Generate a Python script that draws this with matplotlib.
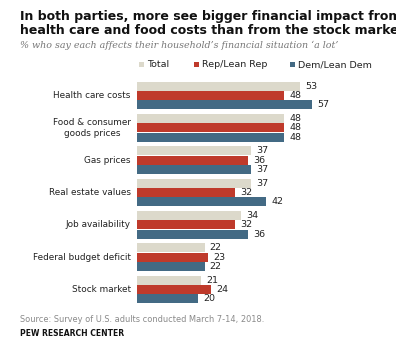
import matplotlib
matplotlib.use("Agg")
import matplotlib.pyplot as plt
from matplotlib.patches import Rectangle
import numpy as np

categories = ["Health care costs", "Food & consumer\ngoods prices", "Gas prices",
              "Real estate values", "Job availability", "Federal budget deficit", "Stock market"]
series_names = ["Total", "Rep/Lean Rep", "Dem/Lean Dem"]
total = [53, 48, 37, 37, 34, 22, 21]
rep = [48, 48, 36, 32, 32, 23, 24]
dem = [57, 48, 37, 42, 36, 22, 20]
colors = ["#dcd9cb", "#bf3a2b", "#436a84"]

W, H = 396, 345
fig = plt.figure(figsize=(W / 100, H / 100), dpi=100)

ax_left_px, ax_w_px = 137, 240
px_per_unit = 3.07
top_px, bot_px = 79.3, 305.7
ax = fig.add_axes([ax_left_px / W, 1 - bot_px / H, ax_w_px / W, (bot_px - top_px) / H])
ax.set_xlim(0, ax_w_px / px_per_unit)
ax.set_ylim(len(categories) - 0.5, -0.5)
ax.axis("off")

y = np.arange(len(categories))
pitch = 0.288
bh = 0.272
for k, vals in enumerate([total, rep, dem]):
    yy = y + (k - 1) * pitch
    ax.barh(yy, vals, height=bh, color=colors[k], edgecolor="none")
    for yi, v in zip(yy, vals):
        ax.text(v + 1.7, yi, str(v), va="center", ha="left", fontsize=6.8, color="#222222")

for yi, c in zip(y, categories):
    ax.text(-2.0, yi, c, va="center", ha="right", fontsize=6.4, color="#222222",
            multialignment="center", linespacing=1.25)

# Title (the reference's title runs past the right edge)
fig.text(20 / W, 1 - 20 / H, "In both parties, more see bigger financial impact from",
         fontsize=9.0, fontweight="bold", color="#111111", ha="left", va="baseline")
fig.text(20 / W, 1 - 34 / H, "health care and food costs than from the stock market",
         fontsize=9.0, fontweight="bold", color="#111111", ha="left", va="baseline")
fig.text(20 / W, 1 - 48 / H, "% who say each affects their household\u2019s financial situation \u2018a lot\u2019",
         fontsize=6.8, family="DejaVu Serif", style="italic", color="#777777",
         ha="left", va="baseline")

# Legend
leg_x = [139, 194, 290]
for name, c, lx in zip(series_names, colors, leg_x):
    fig.patches.append(Rectangle((lx / W, 1 - 67 / H), 5 / W, 5 / H, transform=fig.transFigure,
                                 facecolor=c, edgecolor="none"))
    fig.text((lx + 8) / W, 1 - 64.5 / H, name, fontsize=6.8, color="#222222",
             ha="left", va="center")

# Footer
fig.text(20 / W, 1 - 322 / H, "Source: Survey of U.S. adults conducted March 7-14, 2018.",
         fontsize=5.95, color="#8a8a8a", ha="left", va="baseline")
fig.text(20 / W, 1 - 336 / H, "PEW RESEARCH CENTER", fontsize=5.5, fontweight="bold",
         color="#111111", ha="left", va="baseline")

fig.savefig("out.png", dpi=100, facecolor="white")
